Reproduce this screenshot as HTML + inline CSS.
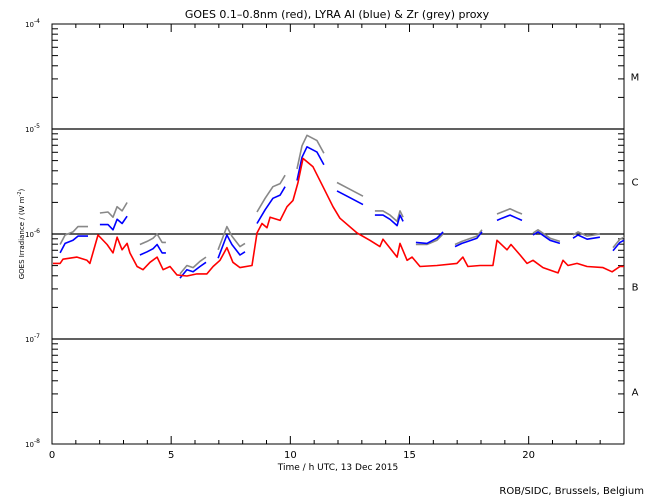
<!DOCTYPE html>
<html><head><meta charset="utf-8"><style>
body{margin:0;background:#fff;}
svg{display:block;font-family:"DejaVu Sans","Liberation Sans",sans-serif;}
</style></head><body>
<svg id="chart" width="650" height="500"></svg>
<script>
const hoursTicks=[0,5,10,15,20];
const decades=[-4,-5,-6,-7,-8];
const classLabels=["M","C","B","A"];
const redSeries=[[0.04,-6.28],[0.34,-6.28],[0.46,-6.24],[1.05,-6.22],[1.47,-6.25],[1.59,-6.28],[1.93,-6.01],[2.31,-6.10],[2.56,-6.18],[2.73,-6.03],[2.94,-6.15],[3.15,-6.09],[3.27,-6.18],[3.57,-6.31],[3.82,-6.34],[4.11,-6.27],[4.41,-6.22],[4.66,-6.34],[4.95,-6.31],[5.24,-6.39],[5.66,-6.40],[6.08,-6.38],[6.50,-6.38],[6.76,-6.31],[7.05,-6.25],[7.34,-6.13],[7.59,-6.27],[7.89,-6.32],[8.39,-6.30],[8.60,-5.99],[8.81,-5.90],[9.02,-5.94],[9.15,-5.84],[9.57,-5.87],[9.86,-5.74],[10.11,-5.68],[10.32,-5.51],[10.53,-5.28],[10.95,-5.36],[11.37,-5.55],[11.79,-5.74],[12.08,-5.85],[12.80,-5.99],[13.34,-6.06],[13.76,-6.12],[13.89,-6.05],[14.48,-6.22],[14.60,-6.09],[14.90,-6.25],[15.11,-6.22],[15.44,-6.31],[16.15,-6.30],[16.99,-6.28],[17.24,-6.22],[17.45,-6.31],[17.96,-6.30],[18.50,-6.30],[18.67,-6.06],[19.09,-6.15],[19.26,-6.10],[19.64,-6.20],[19.93,-6.28],[20.18,-6.25],[20.60,-6.32],[21.23,-6.37],[21.44,-6.25],[21.65,-6.30],[22.03,-6.28],[22.45,-6.31],[23.12,-6.32],[23.50,-6.36],[23.83,-6.31],[24.0,-6.31]];
const blueSeries=[
[[0.34,-6.18],[0.55,-6.09],[0.88,-6.06],[1.09,-6.02],[1.51,-6.02]],
[[2.01,-5.91],[2.35,-5.91],[2.56,-5.96],[2.73,-5.86],[2.94,-5.90],[3.15,-5.83]],
[[3.69,-6.20],[3.99,-6.17],[4.24,-6.14],[4.41,-6.10],[4.62,-6.18],[4.78,-6.18]],
[[5.37,-6.42],[5.66,-6.34],[5.92,-6.36],[6.21,-6.31],[6.46,-6.27]],
[[6.97,-6.23],[7.34,-6.01],[7.55,-6.10],[7.89,-6.20],[8.10,-6.17]],
[[8.60,-5.90],[8.94,-5.77],[9.27,-5.66],[9.57,-5.63],[9.78,-5.55]],
[[10.28,-5.49],[10.49,-5.27],[10.70,-5.17],[11.12,-5.22],[11.41,-5.34]],
[[11.96,-5.59],[12.38,-5.64],[13.05,-5.72]],
[[13.55,-5.82],[13.89,-5.82],[14.18,-5.86],[14.48,-5.92],[14.60,-5.82],[14.73,-5.88]],
[[15.27,-6.08],[15.73,-6.09],[16.15,-6.04],[16.41,-5.98]],
[[16.91,-6.12],[17.20,-6.09],[17.45,-6.07],[17.83,-6.04],[18.04,-5.98]],
[[18.67,-5.87],[18.88,-5.85],[19.22,-5.82],[19.51,-5.85],[19.72,-5.87]],
[[20.18,-6.01],[20.39,-5.98],[20.90,-6.06],[21.31,-6.09]],
[[21.86,-6.04],[22.07,-6.01],[22.45,-6.05],[22.99,-6.03]],
[[23.54,-6.16],[23.83,-6.08],[24.0,-6.06]]];
const greySeries=[
[[0.34,-6.10],[0.55,-6.01],[0.88,-5.98],[1.09,-5.93],[1.51,-5.93]],
[[2.01,-5.80],[2.35,-5.79],[2.56,-5.84],[2.73,-5.74],[2.94,-5.78],[3.15,-5.70]],
[[3.69,-6.10],[3.99,-6.07],[4.24,-6.04],[4.41,-6.00],[4.62,-6.08],[4.78,-6.08]],
[[5.37,-6.38],[5.66,-6.30],[5.92,-6.32],[6.21,-6.26],[6.46,-6.22]],
[[6.97,-6.15],[7.34,-5.93],[7.55,-6.02],[7.89,-6.12],[8.10,-6.09]],
[[8.60,-5.79],[8.94,-5.66],[9.27,-5.55],[9.57,-5.52],[9.78,-5.44]],
[[10.28,-5.38],[10.49,-5.16],[10.70,-5.06],[11.12,-5.11],[11.41,-5.23]],
[[11.96,-5.51],[12.38,-5.56],[13.05,-5.64]],
[[13.55,-5.78],[13.89,-5.78],[14.18,-5.82],[14.48,-5.88],[14.60,-5.78],[14.73,-5.84]],
[[15.27,-6.10],[15.73,-6.10],[16.15,-6.06],[16.41,-6.00]],
[[16.91,-6.10],[17.20,-6.07],[17.45,-6.05],[17.83,-6.02],[18.04,-5.96]],
[[18.67,-5.81],[18.88,-5.79],[19.22,-5.76],[19.51,-5.79],[19.72,-5.81]],
[[20.18,-5.99],[20.39,-5.96],[20.90,-6.04],[21.31,-6.07]],
[[21.86,-6.01],[22.07,-5.98],[22.45,-6.02],[22.99,-6.00]],
[[23.54,-6.13],[23.83,-6.05],[24.0,-6.03]]];

const NS="http://www.w3.org/2000/svg";
const svg=document.getElementById('chart');
const X0=52,X1=624,Y0=24,Y1=444;
const xs=h=>X0+(h/24)*(X1-X0);
const ys=L=>Y0+(-4-L)*(Y1-Y0)/4;
function mk(tag,attrs,parent){const e=document.createElementNS(NS,tag);for(const k in attrs)e.setAttribute(k,attrs[k]);(parent||svg).appendChild(e);return e;}
function txt(x,y,s,size,anchor){const t=mk('text',{x:x,y:y,'font-size':size,'text-anchor':anchor||'middle',fill:'#000'});t.textContent=s;return t;}

// frame
const frame=mk('rect',{x:X0,y:Y0,width:X1-X0,height:Y1-Y0,fill:'none',stroke:'#000','stroke-width':1});



// y ticks and decade lines
decades.forEach((d,i)=>{
  const y=ys(d);
  if(d!==-4&&d!==-8){const gl=mk('line',{x1:X0,x2:X1,y1:y,y2:y,stroke:'#000','stroke-width':1.2});
    
    }
  const lab=mk('text',{x:40,y:y+3,'font-size':7,'text-anchor':'end'});
  
  
  lab.innerHTML='10<tspan dy="-4" font-size="6">'+d+'</tspan>';
  if(i<4){for(let m=2;m<=9;m++){const yy=ys(d-1+Math.log10(m));
    mk('line',{x1:X0,x2:X0+6,y1:yy,y2:yy,stroke:'#000'});
    mk('line',{x1:X1,x2:X1-6,y1:yy,y2:yy,stroke:'#000'});}}
});
classLabels.forEach((c,i)=>{const t=txt(635,ys(-4-i-0.5)+4,c,10);
  
  });

// x ticks
for(let h=1;h<24;h++){const x=xs(h);const len=h%5===0?8:4;
  mk('line',{x1:x,x2:x,y1:Y1,y2:Y1-len,stroke:'#000'});
  mk('line',{x1:x,x2:x,y1:Y0,y2:Y0+len,stroke:'#000'});}
hoursTicks.forEach(h=>{const t=txt(xs(h),Y1+14,String(h),10);
  
  });

// series
function line(pts,color,name){const p=mk('polyline',{points:pts.map(q=>xs(q[0]).toFixed(1)+','+ys(q[1]).toFixed(1)).join(' '),fill:'none',stroke:color,'stroke-width':1.6,'stroke-linejoin':'round'});
  
  }
greySeries.forEach(s=>line(s,'#888','zr-proxy-series'));
blueSeries.forEach(s=>line(s,'#0000ff','lyra-al-series'));
line(redSeries,'#ff0000','goes-series');

const title=txt(337,18,'GOES 0.1\u20130.8nm (red), LYRA Al (blue) & Zr (grey) proxy',11);


const xt=txt(338,470,'Time / h UTC, 13 Dec 2015',9);


const yt=mk('text',{x:0,y:0,'font-size':7,'text-anchor':'middle',transform:'translate(24,234) rotate(-90)'});


yt.innerHTML='GOES Irradiance / (W m<tspan dy="-3" font-size="5">-2</tspan><tspan dy="3">)</tspan>';
const cr=txt(644,494,'ROB/SIDC, Brussels, Belgium',10,'end');


</script>
</body></html>
